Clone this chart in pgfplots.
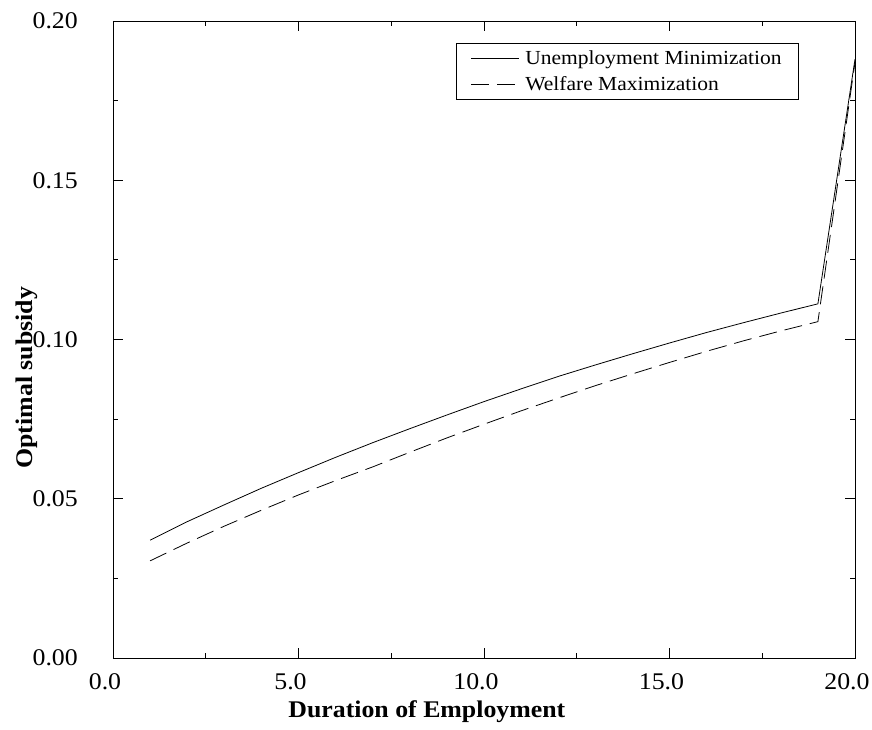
\documentclass[border=0pt]{standalone}
\usepackage{fontspec}
\setmainfont{Liberation Serif}[FakeStretch=1.08]
\usepackage{pgfplots}
\pgfplotsset{compat=1.18}
\begin{document}
\begin{tikzpicture}
\useasboundingbox (-113bp,-72bp) rectangle (759bp,658bp);
\begin{axis}[
  at={(0,0)}, anchor=south west,
  scale only axis, width=742bp, height=637bp,
  xmin=0, xmax=20, ymin=0, ymax=0.20,
  xtick={0,5,10,15,20}, ytick={0,0.05,0.10,0.15,0.20},
  minor tick num=1,
  tick align=inside,
  xtick pos=both, ytick pos=both,
  xticklabel pos=left, yticklabel pos=left,
  major tick length=10bp, minor tick length=5bp,
  axis line style={line width=0.9bp},
  every tick/.style={black, line width=0.8bp},
  /pgf/number format/assume math mode=true,
  ticklabel style={font=\fontsize{24}{24}\selectfont},
  xticklabel style={/pgf/number format/fixed, /pgf/number format/fixed zerofill, /pgf/number format/precision=1,
    inner sep=0pt, anchor=north, yshift=-15bp, xshift=-8bp},
  yticklabel style={/pgf/number format/fixed, /pgf/number format/fixed zerofill, /pgf/number format/precision=2,
    inner sep=0pt, anchor=east, xshift=-35bp},
  scaled y ticks=false,
  xlabel={\textbf{Duration of Employment}},
  ylabel={\textbf{Optimal subsidy}},
  label style={font=\fontsize{24}{24}\selectfont},
  xlabel style={at={(axis description cs:0.423,-0.085)}, anchor=center},
  ylabel style={at={(axis description cs:-0.116,0.44)}, anchor=center},
  legend style={at={(axis description cs:0.9245,0.9655)}, anchor=north east,
    draw=black, line width=0.6bp, font=\fontsize{20}{22}\selectfont,
    inner xsep=15bp, inner ysep=5bp, row sep=7bp},
  legend cell align=left,
  legend image code/.code={\draw[#1] (0bp,0bp) -- (48bp,0bp); \path[draw=none,fill=none] (0bp,-4bp) rectangle (52bp,4bp);},
]
\addplot[black, line width=0.8bp] coordinates {
(1,0.0370) (2,0.0428) (3,0.0481) (4,0.0533) (5,0.0582) (6,0.0630) (7,0.0676)
(8,0.0720) (9,0.0763) (10,0.0805) (11,0.0845) (12,0.0884) (13,0.0920)
(14,0.0955) (15,0.0989) (16,0.1022) (17,0.1053) (18,0.1083) (19,0.1112) (20,0.1880)
};
\addlegendentry{Unemployment Minimization}
\addplot[black, line width=0.8bp, dash pattern=on 18bp off 8bp] coordinates {
(1,0.0305) (2,0.0361) (3,0.0414) (4,0.0464) (5,0.0512) (6,0.0557) (7,0.0600)
(8,0.0646) (9,0.0691) (10,0.0734) (11,0.0776) (12,0.0816) (13,0.0855)
(14,0.0892) (15,0.0928) (16,0.0963) (17,0.0996) (18,0.1027) (19,0.1056) (20,0.1870)
};
\addlegendentry{Welfare Maximization}
\end{axis}
\end{tikzpicture}
\end{document}
